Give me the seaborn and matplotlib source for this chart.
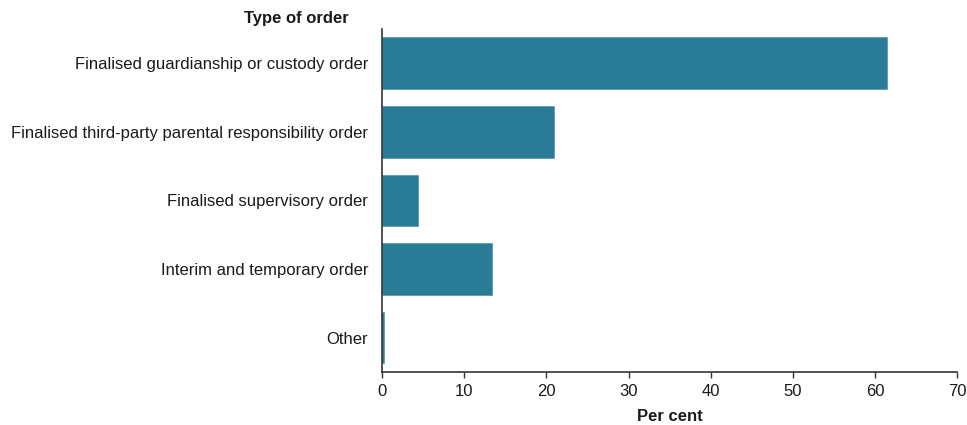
import matplotlib
matplotlib.use("Agg")
import matplotlib.pyplot as plt
import seaborn as sns
import pandas as pd

categories = [
    "Finalised guardianship or custody order",
    "Finalised third-party parental responsibility order",
    "Finalised supervisory order",
    "Interim and temporary order",
    "Other",
]
values = [61.5, 20.9, 4.4, 13.4, 0.2]
xticks = [0, 10, 20, 30, 40, 50, 60, 70]

sns.set_theme(style="white")
plt.rcParams['font.family'] = ['Liberation Sans', 'DejaVu Sans']
plt.rcParams['text.color'] = '#1a1a1a'
plt.rcParams['xtick.color'] = '#1a1a1a'
plt.rcParams['ytick.color'] = '#1a1a1a'

df = pd.DataFrame({"Type of order": categories, "Per cent": values})

fig = plt.figure(figsize=(9.67, 4.25), dpi=100)
ax = fig.add_axes([0.395, 0.125, 0.595, 0.807])
sns.barplot(data=df, y="Type of order", x="Per cent", orient="h",
            color="#2a7b96", saturation=1, width=0.75,
            edgecolor="#5a9db3", linewidth=0.6, ax=ax)

ax.set_xlim(0, 70)
ax.set_xticks(xticks)
ax.tick_params(axis="x", length=4, width=1, color="#333333", labelsize=12, pad=5, bottom=True)
ax.tick_params(axis="y", length=0, labelsize=12, pad=10)
for s in ["top", "right"]:
    ax.spines[s].set_visible(False)
for s in ["left", "bottom"]:
    ax.spines[s].set_color("#333333")
    ax.spines[s].set_linewidth(1.2)
ax.set_ylabel("")
ax.set_xlabel("Per cent", fontsize=12, fontweight="bold", labelpad=7, color="#1a1a1a")
fig.text(0.361, 0.957, "Type of order", fontsize=12, fontweight="bold", ha="right", va="center")

fig.savefig("out.png", dpi=100)
